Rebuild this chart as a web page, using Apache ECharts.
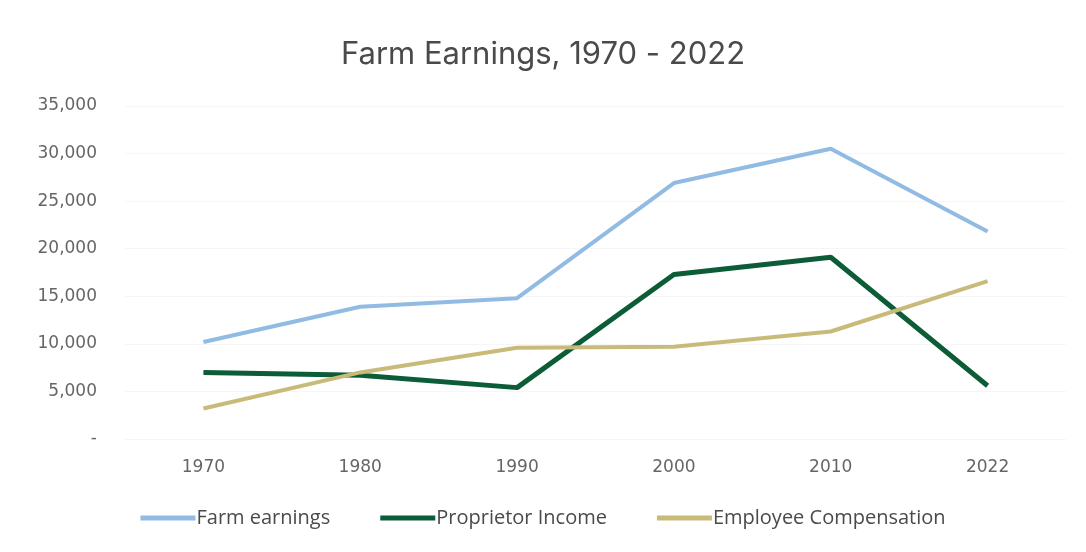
<!DOCTYPE html>
<html><head><meta charset="utf-8">
<script src="https://cdn.jsdelivr.net/npm/echarts@6/dist/echarts.min.js"></script>
<style>html,body{margin:0;padding:0;background:#fff}#c{width:1086px;height:552px}</style>
</head><body><div id="c"></div>
<script>
const title = "Farm Earnings, 1970 - 2022";
const years = ["1970","1980","1990","2000","2010","2022"];
const farmEarnings = [10200, 13900, 14800, 26900, 30500, 21800];
const proprietorIncome = [7000, 6700, 5400, 17300, 19100, 5600];
const employeeCompensation = [3200, 7000, 9600, 9700, 11300, 16600];
const seriesNames = ["Farm earnings", "Proprietor Income", "Employee Compensation"];
const colors = ["#92bbe3", "#0d5c38", "#c8bb7a"];

const font = "'Open Sans', 'Liberation Sans', sans-serif";
const axisFont = "'DejaVu Sans', sans-serif";
const chart = echarts.init(document.getElementById('c'));
function line(name, data, color, w) {
  return { name, type: 'line', data, symbol: 'none', smooth: false,
    lineStyle: { color, width: w }, itemStyle: { color } };
}
chart.setOption({
  animation: false,
  color: colors,
  title: { text: title, left: 'center', top: 34,
    textStyle: { fontFamily: "Inter, 'Open Sans', sans-serif", fontSize: 31, fontWeight: 'normal', color: '#4a4a4a' } },
  grid: { left: 125, right: 20, top: 106, bottom: 113 },
  xAxis: { type: 'category', data: years, boundaryGap: true,
    axisLine: { show: false }, axisTick: { show: false },
    axisLabel: { margin: 20, fontFamily: axisFont, fontSize: 17, color: '#666666' } },
  yAxis: { type: 'value', min: 0, max: 35000, interval: 5000,
    axisLine: { show: false }, axisTick: { show: false },
    splitLine: { lineStyle: { color: '#f6f6f6', width: 1 } },
    axisLabel: { margin: 28, fontFamily: axisFont, fontSize: 17, color: '#666666',
      formatter: v => v === 0 ? '-' : v.toLocaleString('en-US') } },
  legend: { bottom: 19, left: 'center', itemGap: 50, itemWidth: 55, itemHeight: 5,
    icon: 'rect', data: seriesNames,
    textStyle: { fontFamily: font, fontSize: 20, color: '#4a4a4a', padding: [0,0,0,-4] } },
  series: [
    line(seriesNames[0], farmEarnings, colors[0], 4),
    line(seriesNames[1], proprietorIncome, colors[1], 5),
    line(seriesNames[2], employeeCompensation, colors[2], 4)
  ]
});
</script></body></html>
